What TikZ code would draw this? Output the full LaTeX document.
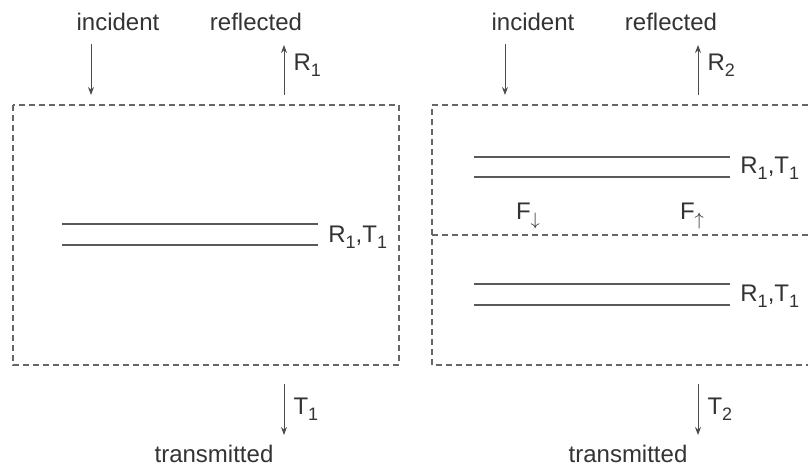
\documentclass[tikz,border=0pt]{standalone}
\usepackage{fontspec}
\setmainfont{Liberation Sans}
\usetikzlibrary{arrows.meta}
\newcommand{\low}[1]{\raisebox{-0.45ex}{\fontsize{9}{10}\selectfont #1}}
\tikzset{
  region/.style={draw=black!60, line width=0.55pt, dash pattern=on 3pt off 2pt},
  layer/.style={draw=black!65, line width=0.6pt},
  flow/.style={draw=black!70, line width=0.5pt, -{Stealth[length=4pt,width=3pt]}},
  lbl/.style={font=\fontsize{12}{14}\selectfont, text=black!80, inner sep=0pt}
}
\begin{document}
\begin{tikzpicture}[x=0.5pt, y=-0.5pt]
  \useasboundingbox (0,0) rectangle (808,466);

  % Single layer (left)
  \draw[region] (13,105) rectangle (399,365); % Dashed boundary
  \foreach \y in {224,245} {
    \draw[layer] (62,\y) -- (318,\y); % Layer lines
  }
  \node[lbl, anchor=west] (rtA) at (328,237) {R\low{1},T\low{1}};

  % Incoming and outgoing waves (left)
  \node[lbl] (incA) at (118,22) {incident};
  \node[lbl] (refA) at (256,22) {reflected};
  \node[lbl] (traA) at (214,454) {transmitted};
  \coordinate (inA1) at (91,44);  \coordinate (inA2) at (91,95);
  \coordinate (rfA1) at (284,95); \coordinate (rfA2) at (284,45);
  \coordinate (trA1) at (284,384); \coordinate (trA2) at (284,435);
  \draw[flow] (inA1) -- (inA2);
  \draw[flow] (rfA1) -- (rfA2) node[lbl, pos=0.6, anchor=west, xshift=4.5pt] (rA) {R\low{1}};
  \draw[flow] (trA1) -- (trA2) node[lbl, pos=0.5, anchor=west, xshift=4.5pt] (tA) {T\low{1}};

  % Double layer (right), right edge runs off the page
  \draw[region] (808,105) -- (432,105) -- (432,365) -- (808,365);
  \draw[region] (432,235) -- (808,235); % Interface between the layers
  \foreach \y in {157,177,284,305} {
    \draw[layer] (474,\y) -- (730,\y); % Layer lines
  }
  \node[lbl, anchor=west] (rtB) at (740,168) {R\low{1},T\low{1}};
  \node[lbl, anchor=west] (rtC) at (740,296) {R\low{1},T\low{1}};
  \node[lbl] (fDown) at (528,216) {F\low{$\downarrow$}};
  \node[lbl] (fUp) at (692,216) {F\low{$\uparrow$}};

  % Incoming and outgoing waves (right)
  \node[lbl] (incB) at (533,22) {incident};
  \node[lbl] (refB) at (671,22) {reflected};
  \node[lbl] (traB) at (628,454) {transmitted};
  \coordinate (inB1) at (505,44);  \coordinate (inB2) at (505,95);
  \coordinate (rfB1) at (698,95); \coordinate (rfB2) at (698,45);
  \coordinate (trB1) at (698,384); \coordinate (trB2) at (698,435);
  \draw[flow] (inB1) -- (inB2);
  \draw[flow] (rfB1) -- (rfB2) node[lbl, pos=0.6, anchor=west, xshift=4.5pt] (rB) {R\low{2}};
  \draw[flow] (trB1) -- (trB2) node[lbl, pos=0.5, anchor=west, xshift=4.5pt] (tB) {T\low{2}};
\end{tikzpicture}
\end{document}
